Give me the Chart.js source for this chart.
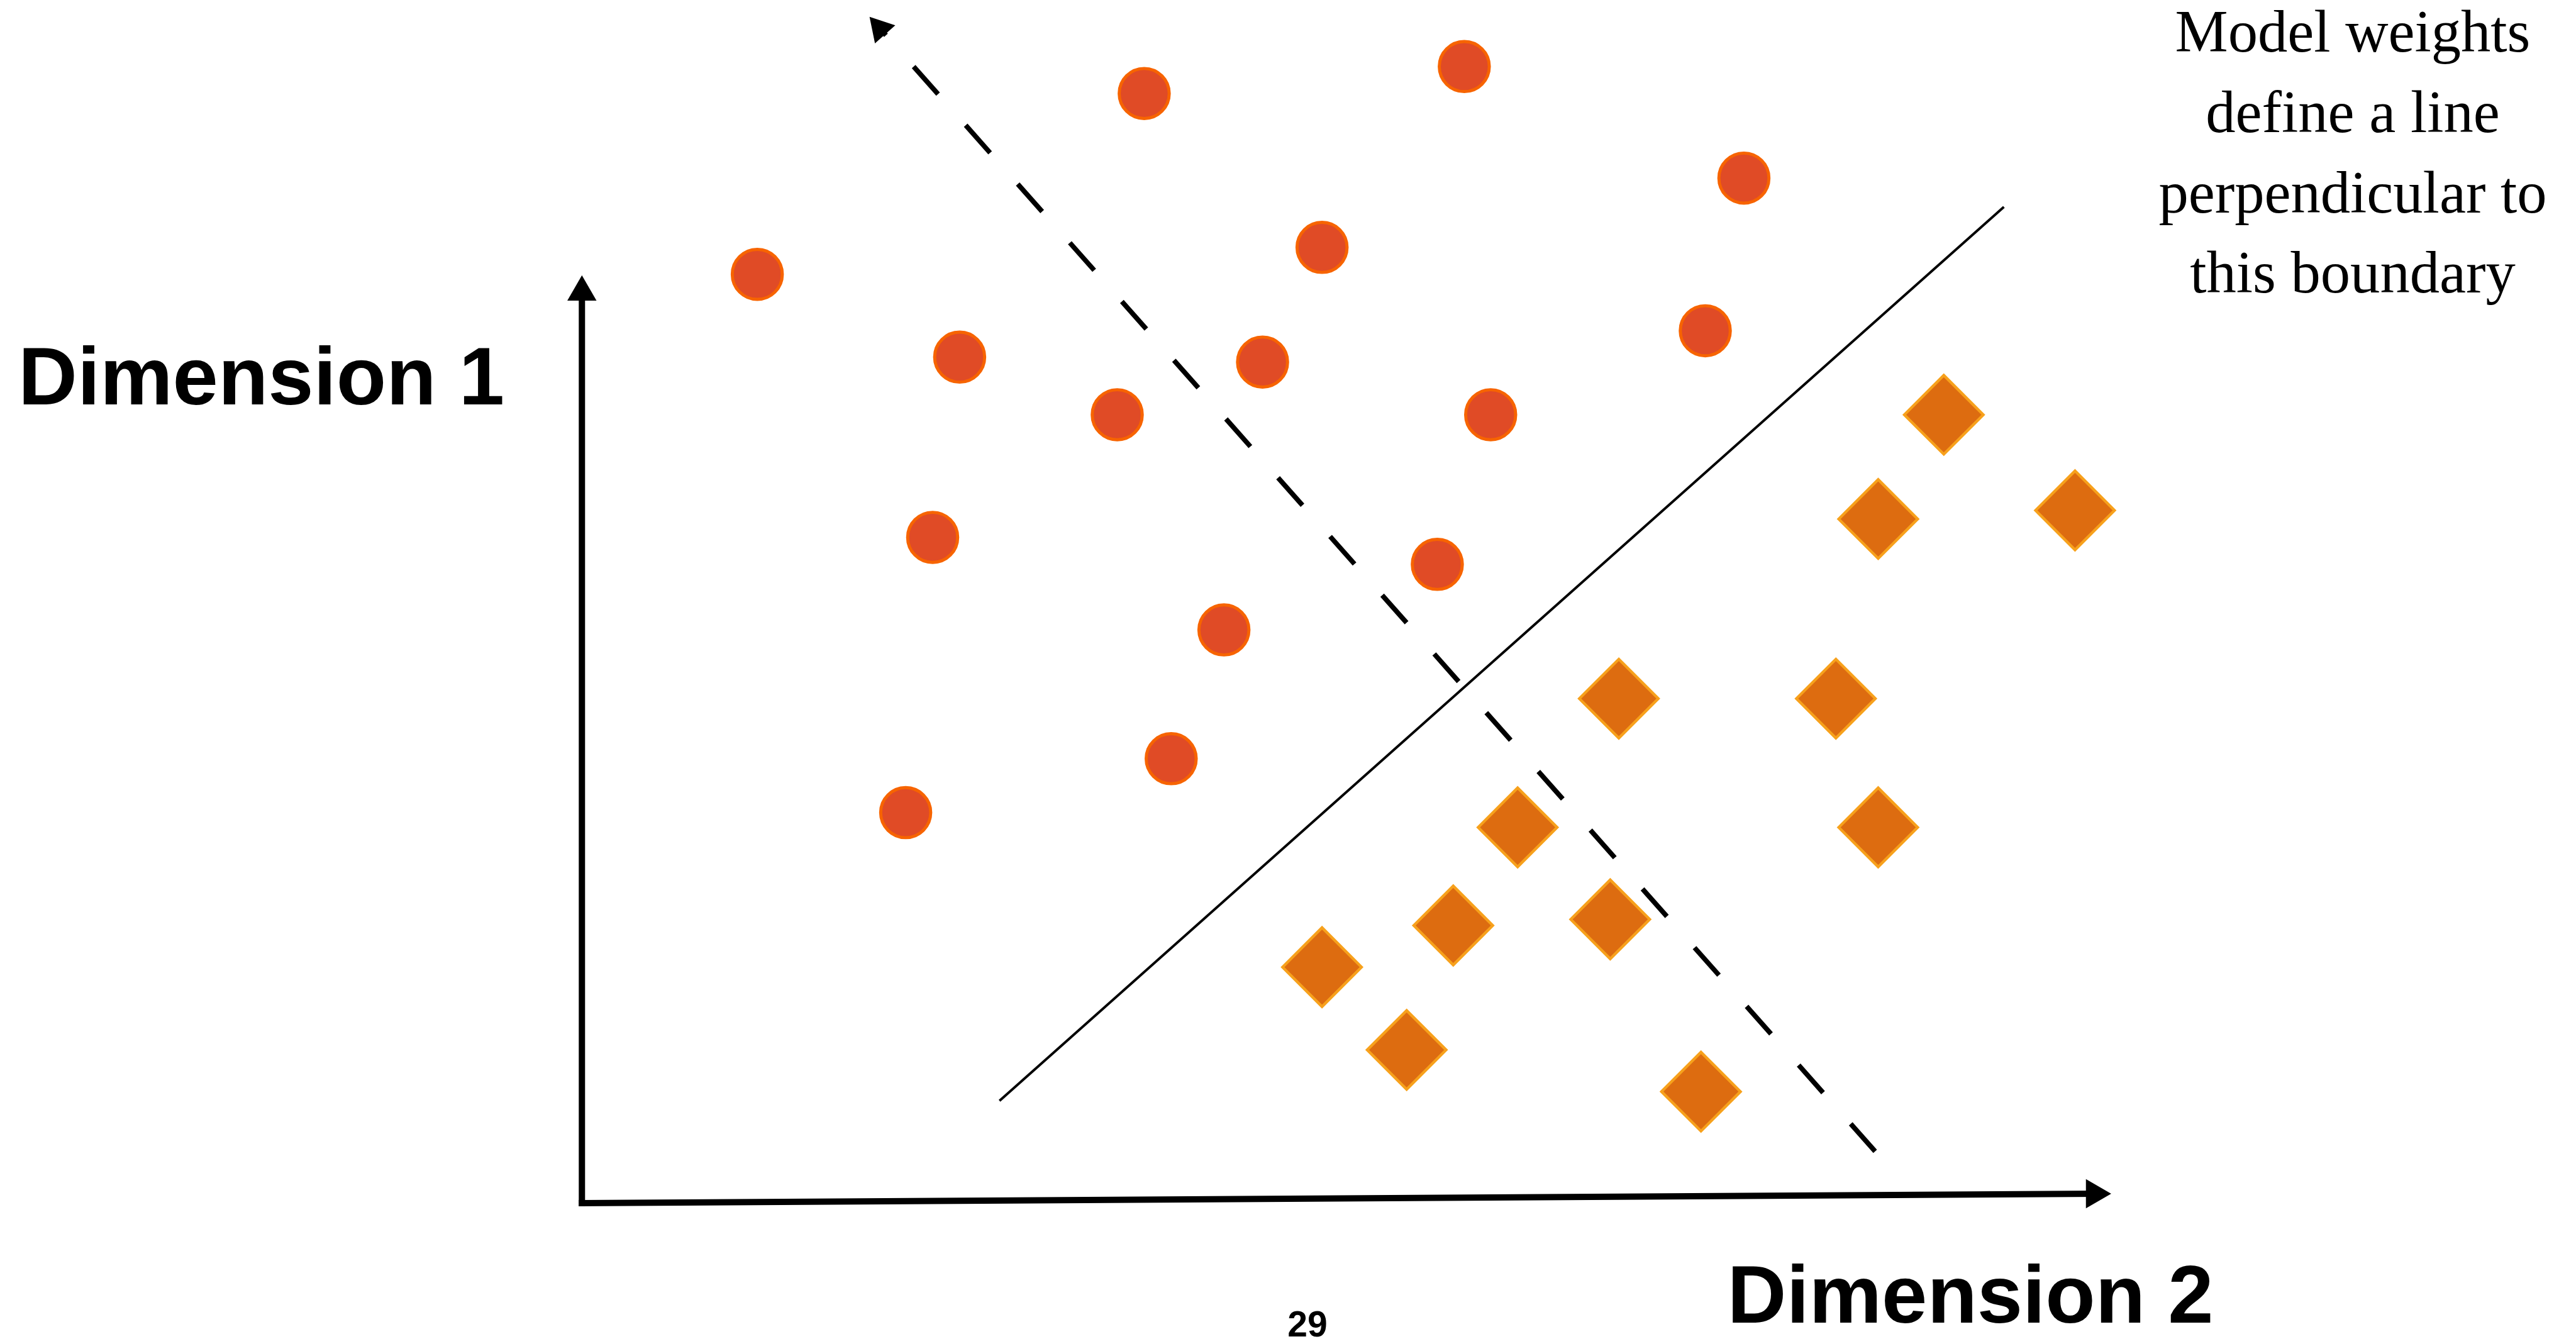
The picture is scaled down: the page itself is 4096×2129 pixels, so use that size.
<!DOCTYPE html>
<html>
<head>
<meta charset="utf-8">
<script src="https://cdn.jsdelivr.net/npm/chart.js@4.4.1/dist/chart.umd.min.js"></script>
<style>
html,body{margin:0;padding:0;background:#fff;overflow:hidden;}
#wrap{position:relative;width:4096px;height:2129px;background:#fff;}
#c{position:absolute;left:0;top:0;}
.lbl{position:absolute;line-height:0;white-space:nowrap;color:#000;}
.axis{font-family:"Liberation Sans",Arial,Helvetica,sans-serif;font-weight:bold;font-size:130px;}
#pg{font-family:"Liberation Sans",Arial,Helvetica,sans-serif;font-weight:bold;font-size:57px;transform:translateX(-50%);}
#note{position:absolute;left:3391px;top:-12.9px;width:700px;text-align:center;font-family:"Liberation Serif","Times New Roman",serif;font-size:94.6px;line-height:127.7px;color:#000;white-space:nowrap;}
</style>
</head>
<body>
<div id="wrap">
<canvas id="c" width="4096" height="2129"></canvas>
<div class="lbl axis" id="d1" style="left:29px;top:597.5px">Dimension 1</div>
<div class="lbl axis" id="d2" style="left:2746.5px;top:2058px">Dimension 2</div>
<div class="lbl" id="pg" style="left:2079px;top:2104.8px">29</div>
<div id="note">Model weights<br>define a line<br>perpendicular to<br>this boundary</div>
</div>
<script>
// Class shown as circles (Dimension 2 = horizontal, Dimension 1 = vertical)
const circleDim2 = [9.17, 14.39, 18.95, 12.07, 2.86, 18.32, 6.16, 11.10, 8.73, 14.82, 5.72, 13.95, 10.47, 9.61, 5.28];
const circleDim1 = [18.10, 18.54, 16.72, 15.59, 15.15, 14.23, 13.80, 13.72, 12.86, 12.86, 10.86, 10.42, 9.35, 7.25, 6.37];
// Class shown as diamonds
const diamondDim2 = [22.21, 21.14, 24.35, 16.91, 20.45, 15.26, 21.14, 14.21, 16.77, 12.07, 13.45, 18.25];
const diamondDim1 = [12.86, 11.16, 11.30, 8.23, 8.23, 6.13, 6.13, 4.53, 4.63, 3.85, 2.50, 1.82];
// Decision boundary (solid)
const boundaryDim2 = [6.81, 23.19];
const boundaryDim1 = [1.67, 16.25];
// Weight vector direction (dashed, arrow at the end)
const weightsDim2 = [21.09, 4.86];
const weightsDim1 = [0.845, 19.16];
// Axes
const axis2Dim2 = [0, 24.665];
const axis2Dim1 = [0, 0.155];
const axis1Dim2 = [0, 0];
const axis1Dim1 = [0, 14.86];
// Visible range
const dim2Range = [-9.49, 32.52];
const dim1Range = [-2.215, 19.625];

function pts(xs, ys) { return xs.map((x, i) => ({ x: x, y: ys[i] })); }

new Chart(document.getElementById('c'), {
  type: 'scatter',
  data: {
    datasets: [
      { label: 'Circles', data: pts(circleDim2, circleDim1), pointStyle: 'circle', pointRadius: 39.8,
        pointBackgroundColor: '#E04B26', pointBorderColor: '#F76400', pointBorderWidth: 4.9, order: 0, clip: false },
      { label: 'Diamonds', data: pts(diamondDim2, diamondDim1), pointStyle: 'rectRot', pointRadius: 62.8,
        pointBackgroundColor: '#DD6C10', pointBorderColor: '#F7A11C', pointBorderWidth: 4.4, order: 0, clip: false },
      { label: 'Boundary', data: pts(boundaryDim2, boundaryDim1), showLine: true, borderColor: '#000', borderWidth: 3.9,
        pointRadius: 0, order: 1, clip: false },
      { label: 'Weights', data: pts(weightsDim2, weightsDim1), showLine: true, borderColor: '#000', borderWidth: 7.8,
        borderDash: [58.5, 66.3], pointStyle: 'triangle', pointRadius: [0, 24.9], pointRotation: [0, -41.5],
        pointBackgroundColor: '#000', pointBorderColor: '#000', pointBorderWidth: 0, order: 1, clip: false },
      { label: 'Dimension 2 axis', data: pts(axis2Dim2, axis2Dim1), showLine: true, borderColor: '#000', borderWidth: 10,
        borderCapStyle: 'square', pointStyle: 'triangle', pointRadius: [0, 26.8], pointRotation: [0, 90],
        pointBackgroundColor: '#000', pointBorderColor: '#000', pointBorderWidth: 0, order: 2, clip: false },
      { label: 'Dimension 1 axis', data: pts(axis1Dim2, axis1Dim1), showLine: true, borderColor: '#000', borderWidth: 10,
        borderCapStyle: 'square', pointStyle: 'triangle', pointRadius: [0, 26.8], pointRotation: [0, 0],
        pointBackgroundColor: '#000', pointBorderColor: '#000', pointBorderWidth: 0, order: 2, clip: false }
    ]
  },
  options: {
    responsive: false,
    animation: false,
    events: [],
    layout: { padding: 0, autoPadding: false },
    plugins: { legend: { display: false }, tooltip: { enabled: false } },
    scales: {
      x: { type: 'linear', min: dim2Range[0], max: dim2Range[1], display: false, bounds: 'data' },
      y: { type: 'linear', min: dim1Range[0], max: dim1Range[1], display: false, bounds: 'data' }
    }
  }
});
</script>
</body>
</html>
